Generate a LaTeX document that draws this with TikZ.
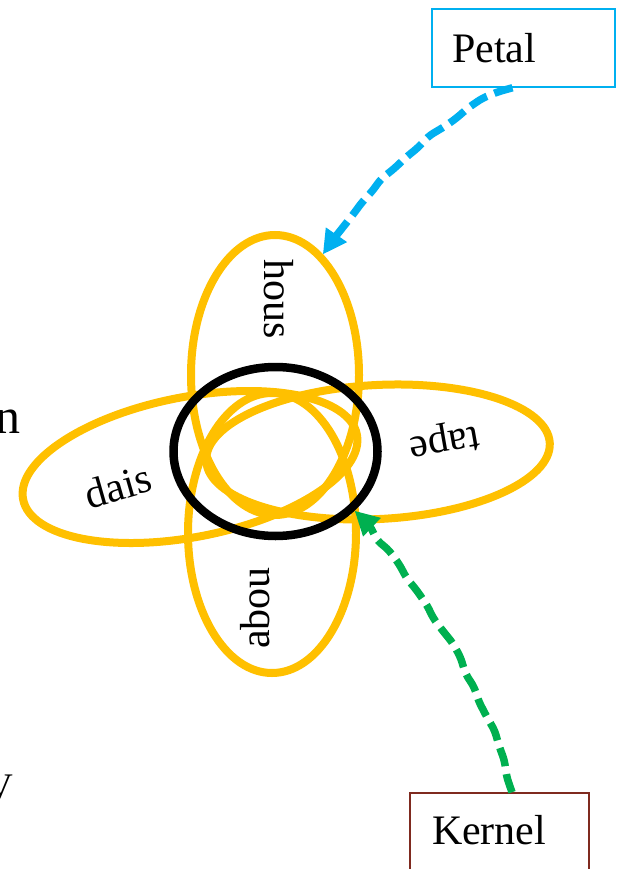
\documentclass[tikz,border=0pt]{standalone}
\usepackage{fontspec}
\setmainfont{Liberation Serif}
\usetikzlibrary{shapes.geometric, arrows.meta, decorations.pathmorphing}
\definecolor{petalorange}{HTML}{FFC000}
\definecolor{petalblue}{HTML}{00B0F0}
\definecolor{kernelgreen}{HTML}{00B050}
\definecolor{kernelbrown}{HTML}{7F2A1F}
\begin{document}
\begin{tikzpicture}[x=1pt, y=-1pt,
  petalshape/.style={ellipse, draw=petalorange, line width=8pt, inner sep=0pt},
  coreshape/.style={ellipse, draw=black, line width=8.5pt, inner sep=0pt},
  lbl/.style={font=\fontsize{42}{50}\selectfont, inner sep=0pt},
  tagbox/.style={draw, line width=1.5pt, minimum height=78pt, align=left,
    font=\fontsize{42}{50}\selectfont},
  wobbly/.style={decorate, decoration={random steps, segment length=16pt, amplitude=2pt},
    rounded corners=5pt},
  flowarrow/.style={line width=7.5pt, dash pattern=on 19pt off 8pt,
    -{Triangle[length=24pt,width=24pt]}}
]
\pgfmathsetseed{7}
\useasboundingbox (0,0) rectangle (617,869);

% fragments cut at the left edge
\node[anchor=base east, inner sep=0pt, font=\fontsize{50}{60}\selectfont] (fragn) at (21,433) {n};
\node[anchor=base east, inner sep=0pt, font=\fontsize{36}{44}\selectfont] (fragv) at (13,798) {V};

% petals
\node[petalshape, minimum width=340pt, minimum height=140pt, rotate=11] (dais) at (190,467) {};
\node[petalshape, minimum width=344pt, minimum height=134pt, rotate=3] (tape) at (378,452) {};
\node[petalshape, minimum width=168pt, minimum height=280pt] (hous) at (275,375) {};
\node[petalshape, minimum width=168pt, minimum height=280pt] (abou) at (272,533) {};

% core
\node[coreshape, minimum width=204pt, minimum height=169pt] (core) at (275.5,451.5) {};

% labels
\node[lbl, rotate=-90] (houslbl) at (279,299) {hous};
\node[lbl, rotate=190] (tapelbl) at (444,440) {tape};
\node[lbl, rotate=16] (daislbl) at (118,486) {dais};
\node[lbl, rotate=90] (aboulbl) at (255,608) {abou};

% tag boxes
\node[tagbox, draw=petalblue, text width=143pt, inner xsep=20pt] (petal) at (523.5,48) {Petal};
\node[tagbox, draw=kernelbrown, text width=135pt, inner xsep=22pt, minimum height=82pt,
  text depth=9pt] (kernel) at (499.5,834) {Kernel};

% connectors
\draw[wobbly, flowarrow, draw=petalblue]
  ([xshift=-11pt]petal.south) .. controls +(-60,15) and +(25,-50) .. (hous.68);
\draw[wobbly, flowarrow, draw=kernelgreen]
  ([xshift=12.5pt]kernel.north) .. controls +(-22,-97) and +(70,78) .. (core.-37);
\end{tikzpicture}
\end{document}
